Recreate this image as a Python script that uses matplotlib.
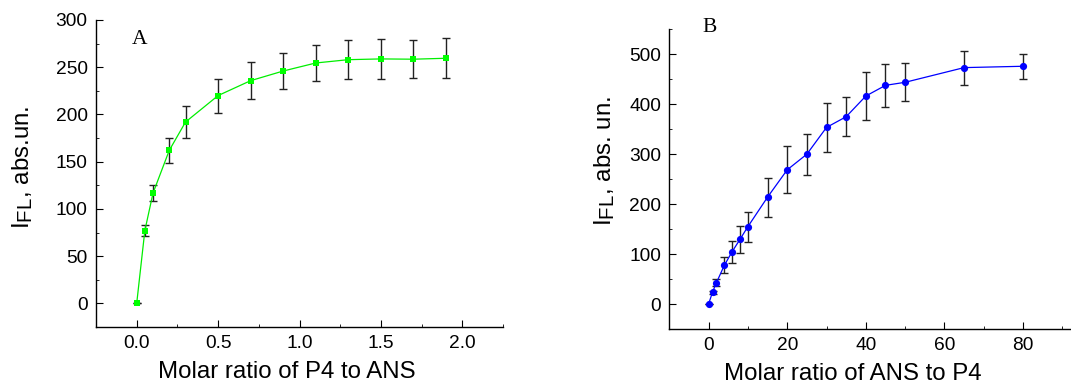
import matplotlib
matplotlib.use("Agg")
import matplotlib.pyplot as plt
from matplotlib.ticker import MultipleLocator
import matplotlib._mathtext as _mt

_mt.SHRINK_FACTOR = 0.85

plt.rcParams['font.family'] = ['Liberation Sans', 'DejaVu Sans']
plt.rcParams['mathtext.fontset'] = 'custom'
plt.rcParams['mathtext.rm'] = 'Liberation Sans'

# Panel A data
xa = [0, 0.05, 0.1, 0.2, 0.3, 0.5, 0.7, 0.9, 1.1, 1.3, 1.5, 1.7, 1.9]
ya = [0, 77, 116.6, 162, 192, 220, 235.8, 246, 254.5, 258, 258.8, 258.5, 259.5]
ea = [0, 5.7, 8.3, 13.6, 17, 18, 19.6, 19.4, 19, 20.3, 20.9, 20.3, 21]

# Panel B data
xb = [0, 1, 2, 4, 6, 8, 10, 15, 20, 25, 30, 35, 40, 45, 50, 65, 80]
yb = [0, 24, 42.8, 77.5, 105, 129.7, 155, 214, 268.7, 300, 353.6, 375, 416.4, 437.8, 443.9, 473.3, 476]
eb = [0, 3, 7.4, 15.7, 22, 26.7, 30, 38.8, 46.8, 41, 49, 39, 47.8, 43, 38, 34, 24.7]

W, H = 1071, 385
fig = plt.figure(figsize=(W / 100, H / 100), dpi=100)

axA = fig.add_axes([96 / W, 1 - 327 / H, (503 - 96) / W, (327 - 20) / H])
axB = fig.add_axes([669.3 / W, 1 - 329 / H, (1071 - 669.3) / W, (329 - 29.3) / H])

LABEL_FS = 17.3
TICK_FS = 13.8

def style(ax):
    for s in ['top', 'right']:
        ax.spines[s].set_visible(False)
    for s in ['left', 'bottom']:
        ax.spines[s].set_linewidth(1.0)
    ax.tick_params(which='major', direction='in', length=5, width=0.8, labelsize=TICK_FS, pad=6)
    ax.tick_params(which='minor', direction='in', length=2.5, width=0.6)

axA.errorbar(xa, ya, yerr=ea, fmt='none', ecolor='#222222', elinewidth=1.0, capsize=3.2, capthick=1.0, zorder=2)
axA.plot(xa, ya, '-', color='#00ee00', lw=0.9, zorder=3)
axA.plot(xa, ya, 's', color='#00ff00', markersize=5, markeredgewidth=0, zorder=4)
axA.set_xlim(-0.25, 2.25)
axA.set_ylim(-25, 300)
axA.xaxis.set_major_locator(MultipleLocator(0.5))
axA.xaxis.set_minor_locator(MultipleLocator(0.25))
axA.yaxis.set_major_locator(MultipleLocator(50))
axA.yaxis.set_minor_locator(MultipleLocator(25))
style(axA)
axA.set_xlabel('Molar ratio of P4 to ANS', fontsize=LABEL_FS)
axA.xaxis.set_label_coords(0.4685, -0.112)
axA.set_ylabel(r'$\mathregular{I_{FL}}$, abs.un.', fontsize=LABEL_FS)
axA.yaxis.set_label_coords(-0.15, 0.52)

axB.errorbar(xb, yb, yerr=eb, fmt='none', ecolor='#222222', elinewidth=1.0, capsize=3.2, capthick=1.0, zorder=2)
axB.plot(xb, yb, '-', color='#0000ff', lw=0.9, zorder=3)
axB.plot(xb, yb, 'o', color='#0000ff', markersize=5.2, markeredgewidth=0, zorder=4)
axB.set_xlim(-10, 92.2)
axB.set_ylim(-50, 550)
axB.xaxis.set_major_locator(MultipleLocator(20))
axB.xaxis.set_minor_locator(MultipleLocator(10))
axB.yaxis.set_major_locator(MultipleLocator(100))
axB.yaxis.set_minor_locator(MultipleLocator(50))
style(axB)
axB.set_xlabel('Molar ratio of ANS to P4', fontsize=LABEL_FS)
axB.xaxis.set_label_coords(0.457, -0.115)
axB.set_ylabel(r'$\mathregular{I_{FL}}$, abs. un.', fontsize=LABEL_FS)
axB.yaxis.set_label_coords(-0.13, 0.56)

fig.text(140 / W, 1 - 40 / H, 'A', family='Liberation Serif', fontsize=15.5, ha='center', va='center')
fig.text(710 / W, 1 - 27 / H, 'B', family='Liberation Serif', fontsize=15.5, ha='center', va='center')

fig.savefig('out.png', dpi=100)
